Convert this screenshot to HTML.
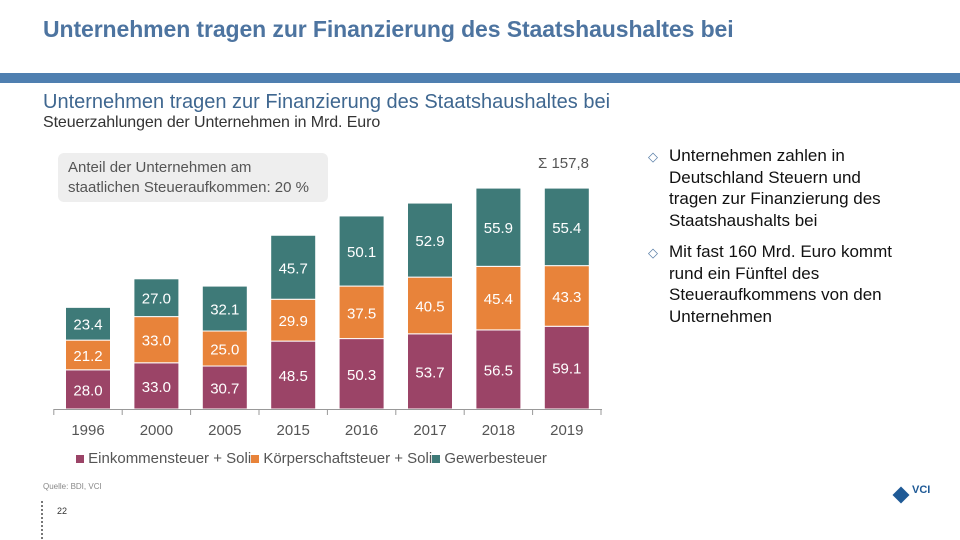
<!DOCTYPE html>
<html><head><meta charset="utf-8"><style>
body{margin:0;width:960px;height:540px;position:relative;background:#fff;font-family:"Liberation Sans",sans-serif;overflow:hidden}
.a{position:absolute}
</style></head><body>
<div class="a" style="left:43px;top:16px;font-size:23px;font-weight:bold;color:#4d74a0;letter-spacing:-0.1px">Unternehmen tragen zur Finanzierung des Staatshaushaltes bei</div>
<div class="a" style="left:0;top:73px;width:960px;height:10px;background:#4f7fb0"></div>
<div class="a" style="left:43px;top:91px;font-size:20px;color:#3f6790;letter-spacing:0px">Unternehmen tragen zur Finanzierung des Staatshaushaltes bei</div>
<div class="a" style="left:43px;top:114px;font-size:16px;color:#333;letter-spacing:-0.1px">Steuerzahlungen der Unternehmen in Mrd. Euro</div>
<div class="a" style="left:58px;top:153px;width:270px;height:49px;background:#eeeeee;border-radius:6px;box-sizing:border-box;padding:5px 10px;font-size:15px;line-height:20px;color:#555">Anteil der Unternehmen am staatlichen Steueraufkommen: 20 %</div>
<div class="a" style="left:538px;top:155px;font-size:15px;color:#555">Σ 157,8</div>
<svg class="a" style="left:0;top:0" width="960" height="540" id="chart"></svg>
<div class="a" style="left:76px;top:450px;font-size:15px;color:#555;white-space:nowrap">
<span><span style="display:inline-block;width:8px;height:8px;background:#9b4467"></span> Einkommensteuer + Soli</span><span><span style="display:inline-block;width:8px;height:8px;background:#e8833a"></span> Körperschaftsteuer + Soli</span><span><span style="display:inline-block;width:8px;height:8px;background:#3e7a78"></span> Gewerbesteuer</span></div>
<div class="a" style="left:648px;top:145px;width:258px;font-size:17px;line-height:21.5px;color:#111">
<div style="padding-left:21px;position:relative"><span style="position:absolute;left:0;top:1px;color:#5a7fa8;font-size:13px">◇</span>Unternehmen zahlen in Deutschland Steuern und tragen zur Finanzierung des Staatshaushalts bei</div>
<div style="padding-left:21px;position:relative;margin-top:10px"><span style="position:absolute;left:0;top:1px;color:#5a7fa8;font-size:13px">◇</span>Mit fast 160 Mrd. Euro kommt rund ein Fünftel des Steueraufkommens von den Unternehmen</div>
</div>
<div class="a" style="left:43px;top:482px;font-size:8px;color:#888">Quelle: BDI, VCI</div>
<div class="a" style="left:57px;top:506px;font-size:9px;color:#333">22</div>
<div class="a" style="left:41px;top:501px;width:2px;height:38px;border-left:2px dotted #777"></div>
<div class="a" style="left:895px;top:484px;font-size:11px;font-weight:bold;color:#1f5a96"><span style="display:inline-block;width:12px;height:12px;background:#1f5a96;transform:rotate(45deg);margin-right:5px;vertical-align:-8px"></span>VCI</div>
<script>
const years=["1996","2000","2005","2015","2016","2017","2018","2019"];
const einkommen=[28.0,33.0,30.7,48.5,50.3,53.7,56.5,59.1];
const koerperschaft=[21.2,33.0,25.0,29.9,37.5,40.5,45.4,43.3];
const gewerbe=[23.4,27.0,32.1,45.7,50.1,52.9,55.9,55.4];
const svg=document.getElementById('chart');
const NS='http://www.w3.org/2000/svg';
const base=409,scale=1.4,x0=88,step=68.4,bw=45;
function xc(i){return x0+i*step}
function y(v){return base-v*scale}
function mk(t,a){const e=document.createElementNS(NS,t);for(const k in a)e.setAttribute(k,a[k]);svg.appendChild(e);return e}
const series=[[einkommen,'#9b4467','einkommensteuer'],[koerperschaft,'#e8833a','koerperschaftsteuer'],[gewerbe,'#3e7a78','gewerbesteuer']];
years.forEach((yr,i)=>{
  let cum=0;
  series.forEach(([vals,col,nm])=>{
    const v=vals[i];
    const r=mk('rect',{x:xc(i)-bw/2,y:y(cum+v),width:bw,height:v*scale,fill:col,stroke:'#fff','stroke-width':1});
    
    
    const t=mk('text',{x:xc(i),y:y(cum+v/2)+6,'text-anchor':'middle','font-size':15,fill:'#fff','font-family':'Liberation Sans, sans-serif'});
    t.textContent=v.toFixed(1);
    
    
    cum+=v;
  });
  const l=mk('text',{x:xc(i),y:435,'text-anchor':'middle','font-size':15,fill:'#555','font-family':'Liberation Sans, sans-serif'});
  l.textContent=yr;
  
  
});
const ax=mk('line',{x1:54,x2:602,y1:409.5,y2:409.5,stroke:'#999'});


for(let i=0;i<=years.length;i++){const xx=xc(i)-step/2;const tk=mk('line',{x1:xx,x2:xx,y1:409,y2:415,stroke:'#999'});

}
</script>
</body></html>
